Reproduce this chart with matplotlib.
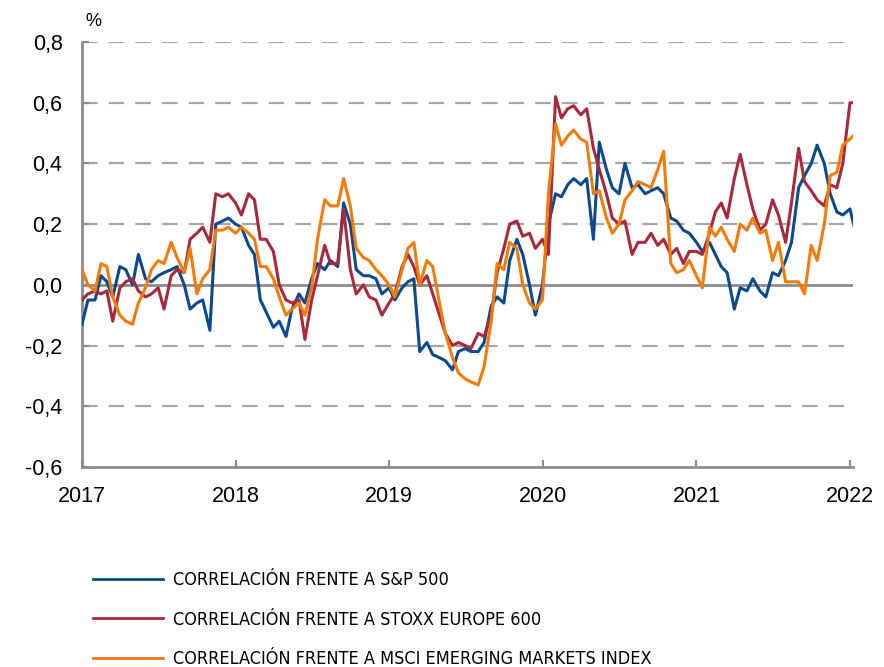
import numpy as np
import pandas as pd
import matplotlib
matplotlib.use("Agg")
import matplotlib.pyplot as plt

# fechas quincenales (inicio y mitad de mes)
fechas = pd.date_range("2017-01-01", "2022-01-16", freq="SMS")

# correlacion frente a S&P 500
sp500 = [
    -0.13, -0.05, -0.05, 0.03, 0.01, -0.04, 0.06, 0.05, 0.0, 0.1, 0.02, 0.01, 0.03,
    0.04, 0.05, 0.06, 0.0, -0.08, -0.06, -0.05, -0.15, 0.2, 0.21, 0.22, 0.2,
    0.19, 0.13, 0.1, -0.05, -0.09, -0.14, -0.12, -0.17, -0.08, -0.03, -0.06, 0.02,
    0.07, 0.05, 0.08, 0.06, 0.27, 0.2, 0.05, 0.03, 0.03, 0.02, -0.03, -0.01,
    -0.05, -0.01, 0.01, 0.02, -0.22, -0.19, -0.23, -0.24, -0.25, -0.28, -0.22, -0.21,
    -0.22, -0.22, -0.19, -0.07, -0.04, -0.06, 0.08, 0.15, 0.1, 0.0, -0.1, 0.0,
    0.2, 0.3, 0.29, 0.33, 0.35, 0.33, 0.35, 0.15, 0.47, 0.38, 0.32, 0.3,
    0.4, 0.32, 0.33, 0.3, 0.31, 0.32, 0.3, 0.22, 0.21, 0.18, 0.17, 0.14,
    0.11, 0.14, 0.1, 0.06, 0.04, -0.08, -0.01, -0.02, 0.02, -0.02, -0.04, 0.04,
    0.03, 0.08, 0.14, 0.32, 0.36, 0.4, 0.46, 0.4, 0.3, 0.24, 0.23, 0.25,
    0.17,
]

# correlacion frente a STOXX Europe 600
stoxx600 = [
    -0.05, -0.03, -0.02, -0.03, -0.02, -0.12, -0.01, 0.01, 0.02, -0.02, -0.04, -0.03, -0.01,
    -0.08, 0.03, 0.05, 0.04, 0.15, 0.17, 0.19, 0.14, 0.3, 0.29, 0.3, 0.27,
    0.23, 0.3, 0.28, 0.15, 0.15, 0.11, 0.0, -0.05, -0.06, -0.05, -0.18, -0.05,
    0.03, 0.13, 0.07, 0.07, 0.25, 0.05, -0.03, 0.0, -0.04, -0.05, -0.1, -0.06,
    -0.03, 0.06, 0.1, 0.06, 0.0, 0.03, -0.03, -0.1, -0.16, -0.2, -0.19, -0.2,
    -0.21, -0.16, -0.17, -0.1, 0.04, 0.12, 0.2, 0.21, 0.16, 0.17, 0.12, 0.15,
    0.1, 0.62, 0.55, 0.58, 0.59, 0.56, 0.58, 0.45, 0.38, 0.3, 0.22, 0.2,
    0.21, 0.1, 0.14, 0.14, 0.17, 0.13, 0.15, 0.1, 0.12, 0.07, 0.11, 0.11,
    0.1, 0.17, 0.24, 0.27, 0.22, 0.35, 0.43, 0.33, 0.25, 0.18, 0.2, 0.28,
    0.23, 0.14, 0.27, 0.45, 0.34, 0.31, 0.28, 0.26, 0.33, 0.32, 0.4, 0.6,
    0.6,
]

# correlacion frente a MSCI Emerging Markets
msci_em = [
    0.05, 0.0, -0.02, 0.07, 0.06, -0.04, -0.1, -0.12, -0.13, -0.06, -0.01, 0.05, 0.08,
    0.07, 0.14, 0.09, 0.04, 0.12, -0.03, 0.02, 0.05, 0.18, 0.18, 0.19, 0.17,
    0.19, 0.17, 0.15, 0.06, 0.06, 0.02, -0.04, -0.1, -0.08, -0.06, -0.1, -0.01,
    0.15, 0.28, 0.26, 0.26, 0.35, 0.26, 0.12, 0.09, 0.08, 0.05, 0.03, 0.0,
    -0.04, 0.05, 0.12, 0.14, 0.0, 0.08, 0.06, -0.06, -0.16, -0.24, -0.29, -0.31,
    -0.32, -0.33, -0.27, -0.12, 0.07, 0.05, 0.14, 0.12, 0.0, -0.06, -0.08, -0.05,
    0.3, 0.53, 0.46, 0.49, 0.51, 0.48, 0.47, 0.3, 0.31, 0.22, 0.17, 0.2,
    0.28, 0.31, 0.34, 0.33, 0.32, 0.38, 0.44, 0.07, 0.04, 0.05, 0.08, 0.03,
    -0.01, 0.19, 0.16, 0.19, 0.15, 0.11, 0.2, 0.18, 0.22, 0.17, 0.18, 0.08,
    0.14, 0.01, 0.01, 0.01, -0.03, 0.13, 0.08, 0.2, 0.36, 0.37, 0.46, 0.48,
    0.5,
]

etiquetas = [
    "CORRELACIÓN FRENTE A S&P 500",
    "CORRELACIÓN FRENTE A STOXX EUROPE 600",
    "CORRELACIÓN FRENTE A MSCI EMERGING MARKETS INDEX",
]
colores = ["#0b4a8c", "#a8283c", "#f47b0a"]
anios = [2017, 2018, 2019, 2020, 2021, 2022]
yticks = [-0.6, -0.4, -0.2, 0.0, 0.2, 0.4, 0.6, 0.8]

plt.rcParams["font.family"] = ["Liberation Sans", "DejaVu Sans"]

fig = plt.figure(figsize=(8.84, 6.67), dpi=100)
ax = fig.add_axes([0.0928, 0.300, 0.872, 0.637])

for serie, col, lab in zip([sp500, stoxx600, msci_em], colores, etiquetas):
    ax.plot(fechas, serie, color=col, lw=2.2, label=lab, zorder=3)

ax.axhline(0, color="#8c8c8c", lw=2, zorder=2)
for y in yticks:
    if y not in (0.0, -0.6):
        ax.axhline(y, color="#a6a6a6", lw=1.6, dashes=(7, 5), zorder=1)

ax.set_ylim(-0.6, 0.8)
ax.set_xlim(pd.Timestamp("2017-01-01"), pd.Timestamp("2022-01-08"))
ax.set_yticks(yticks)
ax.set_yticklabels([f"{v:.1f}".replace(".", ",") for v in yticks], fontsize=15.5)
ax.set_xticks([pd.Timestamp(f"{a}-01-01") for a in anios])
ax.set_xticklabels([str(a) for a in anios], fontsize=15.5)
ax.tick_params(axis="both", direction="in", length=5, width=1.5, color="#8c8c8c")
ax.tick_params(axis="y", pad=14)
ax.tick_params(axis="x", pad=14)

for s in ["top", "right"]:
    ax.spines[s].set_visible(False)
for s in ["left", "bottom"]:
    ax.spines[s].set_color("#8c8c8c")
    ax.spines[s].set_linewidth(2)

fig.text(0.097, 0.968, "%", fontsize=13, ha="left", va="center")

leg = fig.legend(loc="upper left", bbox_to_anchor=(0.105, 0.144), frameon=False,
                 handlelength=3.9, handletextpad=0.55, labelspacing=1.2,
                 prop={"family": "DejaVu Sans", "stretch": "condensed", "size": 13},
                 borderaxespad=0, borderpad=0)
for l in leg.get_lines():
    l.set_linewidth(2)

fig.savefig("out.png", dpi=100)
